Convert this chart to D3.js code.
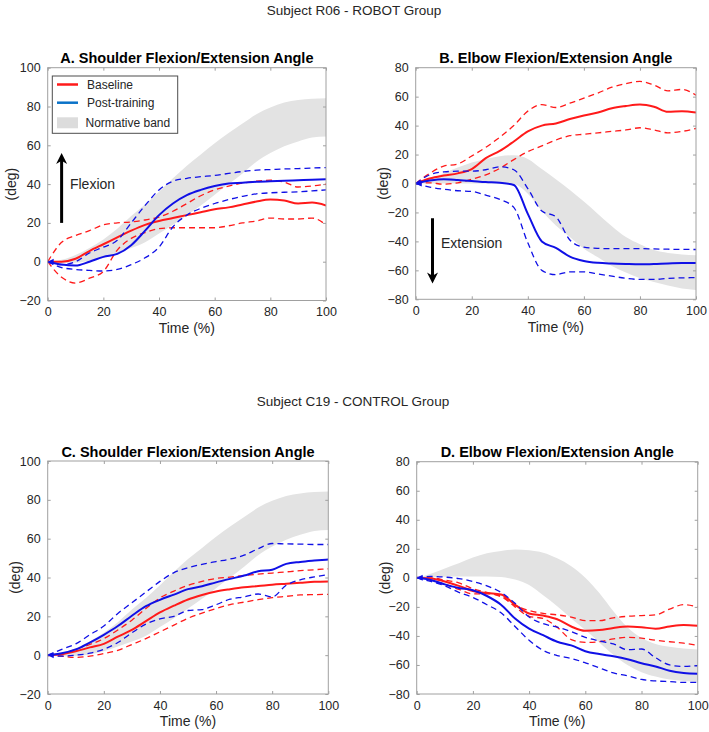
<!DOCTYPE html>
<html>
<head>
<meta charset="utf-8">
<script src="https://cdn.jsdelivr.net/npm/d3@7"></script>
<style>
  html, body { margin: 0; padding: 0; background: #ffffff; }
  svg { display: block; font-family: "Liberation Sans", Arial, sans-serif; }
</style>
</head>
<body>
<svg id="chart" width="709" height="732"></svg>
<script>
// ---------------- DATA ----------------
const time = [0,5,10,15,20,25,30,35,40,45,50,55,60,65,70,75,80,85,90,95,100];
const xTicks = [0,20,40,60,80,100];
const shoulderTicks = [-20,0,20,40,60,80,100];
const elbowTicks = [-80,-60,-40,-20,0,20,40,60,80];

// Normative bands
const shoulderBandUpper = [0,1,3.5,7,11.5,17,23.5,29.5,36,43,49.5,55.2,61,66.3,71.2,76,79.5,82,83.3,84,84.3];
const shoulderBandLower = [0,-0.5,-0.5,0.5,2,4.5,7,10,14.5,19,24,29,34.5,40,45.5,51.5,56,59.5,62,64,64.5];
const elbowBandUpperB = [0,3,7,11,14.5,17,18.8,19.5,17,10,3,-4.5,-12.5,-21,-29.5,-37,-42,-46,-48,-49,-49.5];
const elbowBandLowerB = [0,0,0,0,0,0,0,-0.5,-7,-19,-29,-37,-45,-51,-57,-61.5,-65.5,-68,-70.5,-72.5,-73.5];
const elbowBandUpperD = [0,2.8,6.5,10,14,17,18.5,19.5,19,17.3,13.5,8,0,-10.5,-23,-34,-41.3,-45.5,-47.5,-48.7,-49.3];
const elbowBandLowerD = [0,0.3,0.8,1,1,1,0.5,-1.2,-5,-12,-19.5,-28,-36,-44.5,-53,-60,-65,-68,-70,-71,-71.5];

// Panel A - R06 shoulder
const aBaseline      = [0,0,1.5,5.5,9,12.5,16,19,21,22.5,24,25.5,27,28,29.5,31,32,31.5,30,30.5,29];
const aBaselineUpper = [0,10,13.5,16,19,20,20.5,21.5,23,26,30,34,37,39,40.5,41.5,42,41,38.5,39,40];
const aBaselineLower = [0,-8,-11,-8.5,-5,6,12,15,17,17.5,17.5,17.5,17.5,18.5,20,21,22.5,22,22,22.5,19];
const aPost          = [0,-1.5,-2,0,2.5,4,8.5,16,24,30,34.3,37,39,40.3,40.7,41.2,41.5,41.7,42,42.3,42.5];
const aPostUpper     = [0,-1.5,0,4.5,7.5,11,20,29,37,41.5,43,43.8,44.5,45.5,46.5,47.2,47.5,47.8,48,48.3,48.5];
const aPostLower     = [0,-3,-4,-4.5,-4.8,-4,-1.5,2,7.5,18,24,27.5,30,32,33.7,35,35.5,35.8,36,36.5,37];

// Panel B - R06 elbow
const bBaseline      = [0,3.5,5.5,7,10,17.5,22.5,29,36,40,41.5,44.5,47,49,52,53.5,54.5,53,49.5,50,49];
const bBaselineUpper = [0,7,12,13.5,19,25,32,40,50,54.5,52.5,55.5,59,62.5,66.5,69,70.5,68,64,65,61];
const bBaselineLower = [0,0.5,-0.5,0.5,3,6,10.5,16.5,22,26,30,33,34,35,36,37,38.5,37,35,36,38];
const bPost          = [0,2,3,2.5,1.8,1,0.5,-1,-21,-40,-44.5,-50.5,-53.5,-54.8,-55.3,-55.6,-55.8,-55.6,-55.2,-55,-55];
const bPostUpper     = [0,6,8,8.5,8.5,9.5,11.5,9.5,-3.5,-19,-23,-39,-44,-44.8,-45,-45,-45,-45.2,-45.4,-45.5,-45.6];
const bPostLower     = [0,-2.5,-4,-5,-5.5,-8,-11,-16.5,-41,-60,-63,-61,-61,-62.5,-64,-65.5,-66.3,-66.3,-65.5,-65.2,-65];

// Panel C - C19 shoulder
const cBaseline      = [0,0.5,2,4,5.8,9.5,13,17.5,22,25.5,28.7,31,32.8,34,35,35.6,36.3,36.8,37.3,37.8,38];
const cBaselineUpper = [0,0.5,3,5.5,8.5,13,18,24,29.5,33,36,38,39.5,40.2,41,41.7,42.3,42.9,43.5,44,44.5];
const cBaselineLower = [0,-0.5,-1.2,-0.5,0.8,2.5,5.5,8.5,12,15.5,19,21.7,24,26,27.3,28.6,29.6,30.3,31,31.2,31.3];
const cPost          = [0,1,3,6.5,10.5,15,20.3,25.2,28.5,31.2,34,35.5,37.5,39.3,41,43.2,44,47,48,48.7,49.3];
const cPostUpper     = [0,3,5.8,10.5,15,21.5,27,32.5,38,42.5,45,46.8,48.2,49.5,51.5,54.8,57.5,57.3,57.2,57,57];
const cPostLower     = [0,-0.5,0,1,3,6.5,11.5,16,18.7,20,23,23.5,26,28.8,30,31.5,30,36,38.8,40.3,41.5];

// Panel D - C19 elbow
const dBaseline      = [0,-0.5,-2.5,-5.5,-9,-10.5,-11.5,-18.5,-24.5,-26,-28.5,-33.5,-36.5,-36,-34.5,-33.5,-34,-35,-33.5,-32.5,-33];
const dBaselineUpper = [0,0,-1.5,-3.5,-7.5,-10,-13,-19,-22.5,-24.5,-25.5,-27,-29.5,-29.5,-27.5,-26.5,-26,-25.5,-21.5,-18.5,-20];
const dBaselineLower = [0,-1.5,-4.5,-8,-11,-11,-12.5,-20,-26.5,-28,-34,-42.5,-44.5,-44,-42,-41,-41.5,-43,-44,-45,-46.5];
const dPost          = [0,-1.5,-4.5,-7,-8.5,-12.5,-18.5,-28,-35,-39.5,-44,-46.5,-50.5,-52.5,-54,-56,-58.8,-61,-64,-65.5,-66];
const dPostUpper     = [0,1,0.5,-0.5,-2.5,-5.5,-10,-17.5,-27,-31.5,-34,-37,-41,-43.5,-45.5,-49.5,-49,-55,-60,-61,-60.5];
const dPostLower     = [0,-2.5,-5.5,-10,-13.5,-18.5,-24,-33.5,-43,-50,-53.5,-55.5,-58.5,-62,-65.5,-67.5,-70,-71,-71.5,-72,-72];

const legendLabels = ["Baseline","Post-training","Normative band"];

// ---------------- STYLE ----------------
const RED = "#ff1a1a";
const BLUE = "#1010e6";
const LEG_BLUE = "#0a72c8";
const BAND = "#e3e3e3";
const AXIS = "#a0a0a0";
const TXT = "#262626";

const svg = d3.select("#chart");

svg.append("text").attr("x", 354).attr("y", 10).attr("dy", "0.35em")
  .attr("text-anchor", "middle").attr("font-size", "13.5px").attr("fill", TXT)
  .text("Subject R06 - ROBOT Group");
svg.append("text").attr("x", 353).attr("y", 401).attr("dy", "0.35em")
  .attr("text-anchor", "middle").attr("font-size", "13.5px").attr("fill", TXT)
  .text("Subject C19  - CONTROL Group");

function drawPanel(p) {
  const x = d3.scaleLinear().domain([0, 100]).range([p.left, p.right]);
  const y = d3.scaleLinear().domain(p.yDomain).range([p.bottom, p.top]);
  const g = svg.append("g");
  const clipId = "clip-" + p.id;
  g.append("clipPath").attr("id", clipId).append("rect")
    .attr("x", p.left).attr("y", p.top).attr("width", p.right - p.left).attr("height", p.bottom - p.top);

  // band
  const area = d3.area().x((d, i) => x(time[i])).y0((d, i) => y(p.bandLower[i])).y1((d, i) => y(p.bandUpper[i]))
    .curve(d3.curveMonotoneX);
  g.append("path").datum(p.bandUpper).attr("d", area).attr("fill", BAND).attr("clip-path", `url(#${clipId})`);

  // axes
  const tickLen = 3;
  const bottomAxis = d3.axisBottom(x).tickValues(xTicks).tickSizeInner(-tickLen).tickSizeOuter(0).tickPadding(7);
  const topAxis = d3.axisTop(x).tickValues(xTicks).tickSizeInner(-tickLen).tickSizeOuter(0).tickFormat("");
  const leftAxis = d3.axisLeft(y).tickValues(p.yTicks).tickSizeInner(-tickLen).tickSizeOuter(0).tickPadding(7);
  const rightAxis = d3.axisRight(y).tickValues(p.yTicks).tickSizeInner(-tickLen).tickSizeOuter(0).tickFormat("");

  function styleAxis(sel) {
    sel.select(".domain").remove();
    sel.selectAll(".tick line").attr("stroke", AXIS);
    sel.selectAll(".tick text").attr("fill", TXT).attr("font-size", "12.5px")
      .attr("font-family", "Liberation Sans, Arial, sans-serif");
  }
  g.append("g").attr("transform", `translate(0,${p.bottom})`).call(bottomAxis).call(styleAxis);
  g.append("g").attr("transform", `translate(0,${p.top})`).call(topAxis).call(styleAxis);
  g.append("g").attr("transform", `translate(${p.left},0)`).call(leftAxis).call(styleAxis);
  g.append("g").attr("transform", `translate(${p.right},0)`).call(rightAxis).call(styleAxis);

  // series
  const line = d3.line().x((d, i) => x(time[i])).y(d => y(d)).curve(d3.curveMonotoneX);
  const lg = g.append("g").attr("clip-path", `url(#${clipId})`);
  const series = [
    { v: p.baseUpper, c: RED, dash: true },
    { v: p.baseLower, c: RED, dash: true },
    { v: p.base, c: RED, dash: false },
    { v: p.postUpper, c: BLUE, dash: true },
    { v: p.postLower, c: BLUE, dash: true },
    { v: p.post, c: BLUE, dash: false }
  ];
  series.forEach(s => {
    lg.append("path").datum(s.v).attr("d", line).attr("fill", "none")
      .attr("stroke", s.c).attr("stroke-width", s.dash ? 1.3 : 2)
      .attr("stroke-dasharray", s.dash ? "6,4" : null)
      .attr("stroke-linejoin", "round");
  });

  // small start marker (arrowhead pointing left at origin)
  const ox = x(time[0]), oy = y(p.post[0]);
  g.append("path").attr("d", `M${ox},${oy} L${ox + 6},${oy - 3} L${ox + 6},${oy + 3} Z`).attr("fill", BLUE);

  // box
  g.append("rect").attr("x", p.left).attr("y", p.top).attr("width", p.right - p.left).attr("height", p.bottom - p.top)
    .attr("fill", "none").attr("stroke", AXIS).attr("stroke-width", 1);

  // titles & labels
  g.append("text").attr("x", (p.left + p.right) / 2).attr("y", p.top - 9.5).attr("dy", "0.35em")
    .attr("text-anchor", "middle").attr("font-weight", "bold").attr("font-size", "14.5px").attr("fill", "#000")
    .text(p.title);
  g.append("text").attr("x", (p.left + p.right) / 2).attr("y", p.bottom + 27.5).attr("dy", "0.35em")
    .attr("text-anchor", "middle").attr("font-size", "14px").attr("fill", TXT).text("Time (%)");
  g.append("text").attr("transform", `translate(${p.ylabX},${(p.top + p.bottom) / 2}) rotate(-90)`)
    .attr("dy", "0.35em").attr("text-anchor", "middle").attr("font-size", "14px").attr("fill", TXT).text("(deg)");

  return { g, x, y };
}

const A = drawPanel({ id: "A", left: 47.7, right: 326, top: 67.7, bottom: 300.5, yDomain: [-20, 100], yTicks: shoulderTicks,
  bandUpper: shoulderBandUpper, bandLower: shoulderBandLower,
  base: aBaseline, baseUpper: aBaselineUpper, baseLower: aBaselineLower,
  post: aPost, postUpper: aPostUpper, postLower: aPostLower,
  title: "A. Shoulder Flexion/Extension Angle", ylabX: 11 });
const B = drawPanel({ id: "B", left: 415.7, right: 696, top: 67.7, bottom: 299.3, yDomain: [-80, 80], yTicks: elbowTicks,
  bandUpper: elbowBandUpperB, bandLower: elbowBandLowerB,
  base: bBaseline, baseUpper: bBaselineUpper, baseLower: bBaselineLower,
  post: bPost, postUpper: bPostUpper, postLower: bPostLower,
  title: "B. Elbow Flexion/Extension Angle", ylabX: 383 });
const C = drawPanel({ id: "C", left: 47.7, right: 328.3, top: 461, bottom: 694, yDomain: [-20, 100], yTicks: shoulderTicks,
  bandUpper: shoulderBandUpper, bandLower: shoulderBandLower,
  base: cBaseline, baseUpper: cBaselineUpper, baseLower: cBaselineLower,
  post: cPost, postUpper: cPostUpper, postLower: cPostLower,
  title: "C. Shoulder Flexion/Extension Angle", ylabX: 15 });
const D = drawPanel({ id: "D", left: 416.7, right: 697.7, top: 461.7, bottom: 694, yDomain: [-80, 80], yTicks: elbowTicks,
  bandUpper: elbowBandUpperD, bandLower: elbowBandLowerD,
  base: dBaseline, baseUpper: dBaselineUpper, baseLower: dBaselineLower,
  post: dPost, postUpper: dPostUpper, postLower: dPostLower,
  title: "D. Elbow Flexion/Extension Angle", ylabX: 385 });

// ---------------- ANNOTATIONS ----------------
function arrow(panel, xv, y0, y1) {
  const X = panel.x(xv), Y0 = panel.y(y0), Y1 = panel.y(y1);
  const dir = Y1 < Y0 ? 1 : -1; // 1 = pointing up
  const headLen = 11, headW = 5.5;
  panel.g.append("line").attr("x1", X).attr("y1", Y0).attr("x2", X).attr("y2", Y1 + dir * headLen * 0.6)
    .attr("stroke", "#000").attr("stroke-width", 3);
  panel.g.append("path")
    .attr("d", `M${X},${Y1} L${X - headW},${Y1 + dir * headLen} L${X},${Y1 + dir * headLen * 0.7} L${X + headW},${Y1 + dir * headLen} Z`)
    .attr("fill", "#000");
}
arrow(A, 5, 20, 56);
A.g.append("text").attr("x", A.x(8)).attr("y", A.y(40)).attr("dy", "0.35em").attr("font-size", "14px").attr("fill", TXT).text("Flexion");
arrow(B, 6, -24, -69);
B.g.append("text").attr("x", B.x(9)).attr("y", B.y(-41)).attr("dy", "0.35em").attr("font-size", "14px").attr("fill", TXT).text("Extension");

// ---------------- LEGEND ----------------
const lgd = A.g.append("g");
lgd.append("rect").attr("x", 52.3).attr("y", 76).attr("width", 125.4).attr("height", 57.3)
  .attr("fill", "#fff").attr("stroke", "#4d4d4d").attr("stroke-width", 1);
lgd.append("line").attr("x1", 57).attr("x2", 78).attr("y1", 84.5).attr("y2", 84.5).attr("stroke", RED).attr("stroke-width", 2.5);
lgd.append("line").attr("x1", 57).attr("x2", 78).attr("y1", 102.7).attr("y2", 102.7).attr("stroke", LEG_BLUE).attr("stroke-width", 2.5);
lgd.append("rect").attr("x", 57).attr("y", 117.3).attr("width", 21).attr("height", 11).attr("fill", "#dcdcdc");
[84.5, 102.7, 122.8].forEach((yy, i) => {
  lgd.append("text").attr("x", i === 2 ? 85.5 : 87).attr("y", yy).attr("dy", "0.35em").attr("font-size", "12px").attr("fill", TXT).text(legendLabels[i]);
});
</script>
</body>
</html>
